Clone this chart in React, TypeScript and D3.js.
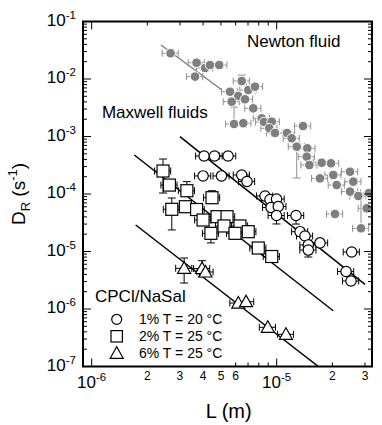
import React from "react";
import * as d3 from "d3";

const W = 382;
const H = 425;
const FONT = "'Liberation Sans', Arial, sans-serif";

// L in µm, D_R in s^-1, optional vertical error bar [low, high]
type Pt = [number, number, number?, number?];

const newton: Pt[] = [
  [2.67, 2.8e-2], [3.69, 1.92e-2], [4.1, 1.55e-2], [4.36, 1.75e-2], [4.89, 1.75e-2],
  [3.62, 1.1e-2], [6.47, 9.23e-3, 9.23e-3, 1.17e-2], [7.02, 6.44e-3], [5.59, 6.01e-3],
  [6.2, 5.06e-3], [6.74, 4.44e-3], [5.71, 4.03e-3], [7.47, 3.09e-3], [7.63, 7.35e-3],
  [5.88, 1.65e-3, 1.65e-3, 3.26e-3], [6.6, 1.7e-3], [8.3, 2.07e-3], [8.54, 1.79e-3],
  [9.4, 1.81e-3], [9.12, 1.39e-3], [9.79, 1.15e-3], [11.37, 1.15e-3], [12.05, 9.3e-4],
  [13.88, 1.52e-3], [12.83, 6.65e-4, 1.9e-4, 6.65e-4], [14.64, 6.23e-4], [14.53, 4.45e-4],
  [15.01, 3.19e-4], [17.51, 3.5e-4], [19.66, 3.42e-4], [17.14, 1.87e-4], [20.23, 2.14e-4],
  [21.1, 1.43e-4], [24.9, 2.44e-4], [25.95, 1.64e-4], [24.9, 1.1e-4], [27.61, 9.23e-5],
  [31.54, 1.04e-4], [30.65, 5.64e-5], [20.66, 4.49e-5], [28.56, 2.53e-5, 2.53e-5, 9.2e-5],
];

const cpc1: Pt[] = [
  [4.05, 4.58e-4], [4.61, 4.58e-4], [5.46, 4.58e-4], [4.0, 2.06e-4], [5.03, 2.06e-4],
  [6.47, 2.14e-4], [6.91, 1.65e-4], [8.65, 9.23e-5], [9.2, 8.02e-5], [9.98, 8.18e-5],
  [9.32, 5.82e-5], [10.2, 6.06e-5], [9.98, 4.23e-5, 3.01e-5, 4.23e-5],
  [12.72, 4.23e-5, 3.0e-5, 4.23e-5], [13.37, 2.21e-5], [14.22, 1.86e-5], [14.82, 1.3e-5],
  [17.14, 1.41e-5], [14.82, 1.06e-5, 8.02e-6, 1.06e-5], [25.43, 9.8e-6], [23.7, 4.49e-6],
  [25.21, 3.07e-6],
];

const cpc2: Pt[] = [
  [2.43, 2.51e-4, 1.04e-4, 4.06e-4], [2.63, 1.43e-4], [3.27, 1.14e-4, 1.14e-4, 1.64e-4],
  [2.71, 5.42e-5, 2.37e-5, 8.52e-5], [3.21, 6.01e-5], [3.69, 5.37e-5],
  [4.47, 8.62e-5, 8.62e-5, 1.14e-4], [4.0, 3.53e-5], [4.76, 4.03e-5], [5.39, 4.03e-5],
  [5.19, 2.78e-5], [6.33, 2.78e-5], [4.41, 2.07e-5, 1.41e-5, 2.07e-5], [5.95, 2.07e-5],
  [7.02, 2.21e-5], [7.95, 1.15e-5], [9.4, 8.18e-6],
];

const cpc6: Pt[] = [
  [3.16, 5.1e-6, 2.83e-6, 7.71e-6], [3.95, 5.06e-6, 3.64e-6, 6.92e-6], [4.12, 4.4e-6],
  [6.2, 1.27e-6], [6.83, 1.34e-6], [8.95, 4.81e-7], [11.22, 3.63e-7],
];

const newtonFit: [number, number][] = [[2.37, 3.9e-2], [5.06, 6.44e-3]];
const fits: [number, number][][] = [
  [[3.0, 9.93e-4], [30.0, 2.69e-6]],
  [[1.7, 4.77e-4], [20.2, 9.33e-7]],
  [[1.73, 2.89e-5], [16.8, 1.0e-7]],
];

const xErr = 0.1; // relative horizontal error
const yDecades = [-7, -6, -5, -4, -3, -2, -1];
const xDecades = [-6, -5];
const xMinorLabels = [2, 3, 4, 5, 6, 20, 30]; // µm
const bottomMinor = [6, 7, 8, 9, 20, 30];
const topMinor = [2, 3, 4, 5, 6, 7, 8, 9];
const legendRows = ["1% T = 20 °C", "2% T = 25 °C", "6% T = 25 °C"];

const left = 83, right = 372, top = 21.5, bottom = 366.5;
const x = d3.scaleLog().domain([0.8977e-6, 3.274e-5]).range([left, right]);
const y = d3.scaleLog().domain([1e-7, 1e-1]).range([bottom, top]);
const X = (um: number) => x(um * 1e-6);

function ErrBars({ data, color }: { data: Pt[]; color: string }) {
  return (
    <g stroke={color} strokeWidth={1} fill="none">
      {data.map((d, i) => {
        const cx = X(d[0]), cy = y(d[1]);
        const x0 = X(d[0] * (1 - xErr)), x1 = X(d[0] * (1 + xErr));
        return (
          <g key={i}>
            <line x1={x0} x2={x1} y1={cy} y2={cy} />
            <line x1={x0} x2={x0} y1={cy - 3.5} y2={cy + 3.5} />
            <line x1={x1} x2={x1} y1={cy - 3.5} y2={cy + 3.5} />
            {d[2] !== undefined && (
              <g>
                <line x1={cx} x2={cx} y1={y(d[2]!)} y2={y(d[3]!)} />
                {d[2]! < d[1] && <line x1={cx - 4} x2={cx + 4} y1={y(d[2]!)} y2={y(d[2]!)} />}
                {d[3]! > d[1] && <line x1={cx - 4} x2={cx + 4} y1={y(d[3]!)} y2={y(d[3]!)} />}
              </g>
            )}
          </g>
        );
      })}
    </g>
  );
}

const tri = (cx: number, cy: number, s = 6.5) =>
  `M${cx},${cy - 6.5}L${cx - s},${cy + 5}L${cx + s},${cy + 5}Z`;

export default function App() {
  const line = d3.line<[number, number]>().x((d) => X(d[0])).y((d) => y(d[1]));
  const yMinor: number[] = [];
  yDecades.slice(0, -1).forEach((e) => {
    for (let k = 2; k <= 9; k++) yMinor.push(k * Math.pow(10, e));
  });

  return (
    <svg width={W} height={H} style={{ position: "absolute", left: 0, top: 0, background: "#fff" }} fontFamily={FONT}>
      <defs>
        <clipPath id="plot">
          <rect x={left} y={top} width={right - left} height={bottom - top} />
        </clipPath>
      </defs>

      <g clipPath="url(#plot)">
        <path d={line(newtonFit) || ""} stroke="#808080" strokeWidth={1.5} fill="none" />
        {fits.map((f, i) => (
          <path key={i} d={line(f) || ""} stroke="#000" strokeWidth={1.5} fill="none" />
        ))}

        <ErrBars data={newton} color="#909090" />
        {newton.map((d, i) => (
          <circle key={i} cx={X(d[0])} cy={y(d[1])} r={4.8} fill="#7f7f7f" stroke="#fff" strokeWidth={1} />
        ))}

        <ErrBars data={cpc2} color="#000" />
        {cpc2.map((d, i) => (
          <rect key={i} x={X(d[0]) - 6} y={y(d[1]) - 6} width={12} height={12} fill="#fff" stroke="#000" strokeWidth={1.2} />
        ))}

        <ErrBars data={cpc1} color="#000" />
        {cpc1.map((d, i) => (
          <circle key={i} cx={X(d[0])} cy={y(d[1])} r={5.2} fill="#fff" stroke="#000" strokeWidth={1.2} />
        ))}

        <ErrBars data={cpc6} color="#000" />
        {cpc6.map((d, i) => (
          <path key={i} d={tri(X(d[0]), y(d[1]))} fill="#fff" stroke="#000" strokeWidth={1.2} />
        ))}
      </g>

      {/* frame */}
      <rect x={left} y={top} width={right - left} height={bottom - top} fill="none" stroke="#000" strokeWidth={2} />

      {/* ticks */}
      <g stroke="#000" strokeWidth={1}>
        {yDecades.map((e) => (
          <g key={e}>
            <line x1={left} x2={left + 8} y1={y(Math.pow(10, e))} y2={y(Math.pow(10, e))} />
            <line x1={right} x2={right - 8} y1={y(Math.pow(10, e))} y2={y(Math.pow(10, e))} />
          </g>
        ))}
        {yMinor.map((v, i) => (
          <g key={i}>
            <line x1={left} x2={left + 4} y1={y(v)} y2={y(v)} />
            <line x1={right} x2={right - 4} y1={y(v)} y2={y(v)} />
          </g>
        ))}
        {xDecades.map((e) => (
          <g key={e}>
            <line x1={x(Math.pow(10, e))} x2={x(Math.pow(10, e))} y1={bottom} y2={bottom - 8} />
            <line x1={x(Math.pow(10, e))} x2={x(Math.pow(10, e))} y1={top} y2={top + 8} />
          </g>
        ))}
        {bottomMinor.map((v) => (
          <line key={v} x1={X(v)} x2={X(v)} y1={bottom} y2={bottom - 4} />
        ))}
        {topMinor.map((v) => (
          <line key={v} x1={X(v)} x2={X(v)} y1={top} y2={top + 4} />
        ))}
      </g>

      {/* y tick labels */}
      {yDecades.map((e) => (
        <text key={e} x={76} y={y(Math.pow(10, e)) + 4} textAnchor="end" fontSize={17}>
          10<tspan fontSize={11.5} dy={-7}>{e}</tspan>
        </text>
      ))}

      {/* x tick labels */}
      {xDecades.map((e) => (
        <text key={e} x={x(Math.pow(10, e))} y={388} textAnchor="middle" fontSize={17}>
          10<tspan fontSize={11.5} dy={-7}>{e}</tspan>
        </text>
      ))}
      {xMinorLabels.map((v) => (
        <text key={v} x={X(v)} y={380} textAnchor="middle" fontSize={12}>
          {String(v >= 10 ? v / 10 : v)}
        </text>
      ))}

      {/* axis titles */}
      <text x={228.7} y={418} textAnchor="middle" fontSize={20}>L (m)</text>
      <text transform="translate(25,194) rotate(-90)" textAnchor="middle" fontSize={19}>
        D<tspan fontSize={13} dy={5}>R</tspan>
        <tspan dy={-5}> (s</tspan>
        <tspan fontSize={13} dy={-8}>-1</tspan>
        <tspan dy={8}>)</tspan>
      </text>

      {/* annotations */}
      <text x={247} y={47} fontSize={17}>Newton fluid</text>
      <text x={207.7} y={118.3} textAnchor="end" fontSize={17}>Maxwell fluids</text>
      <text x={95} y={301.7} fontSize={17}>CPCl/NaSal</text>

      {/* legend */}
      {legendRows.map((t, i) => {
        const cy = 319.3 + i * 17;
        return (
          <g key={t}>
            {i === 0 && <circle cx={116.7} cy={cy} r={5} fill="#fff" stroke="#000" strokeWidth={1.2} />}
            {i === 1 && <rect x={111} y={cy - 5.7} width={11.4} height={11.4} fill="#fff" stroke="#000" strokeWidth={1.2} />}
            {i === 2 && <path d={tri(116.7, cy)} fill="#fff" stroke="#000" strokeWidth={1.2} />}
            <text x={139} y={cy + 5} fontSize={14}>{t}</text>
          </g>
        );
      })}
    </svg>
  );
}
